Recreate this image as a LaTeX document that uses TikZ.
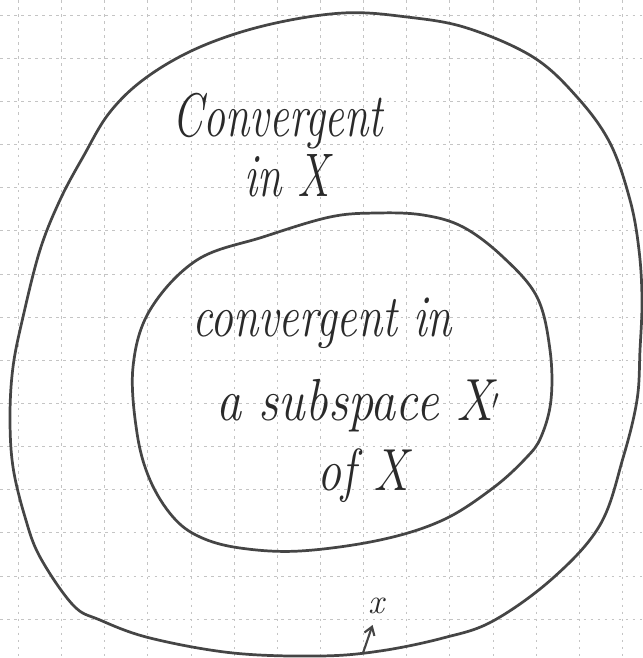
\documentclass[tikz,border=0pt]{standalone}
\usepackage{fontspec}
\usepackage{graphicx}
\usetikzlibrary{arrows.meta}
\definecolor{ink}{HTML}{2A2A2A}
\definecolor{pencil}{HTML}{454545}
\definecolor{gridc}{HTML}{C4C4C4}
\tikzset{
  gridline/.style={gridc, line width=0.7pt, dash pattern=on 3pt off 5pt},
  curve/.style={pencil, line width=3.1pt, line join=round},
  hand/.style={ink, font=\itshape\fontsize{50}{60}\selectfont, inner sep=0pt, anchor=base},
  handin/.style={hand, font=\itshape\fontsize{52}{62}\selectfont},
  pointer/.style={pencil, line width=2.4pt, -{Straight Barb[length=9pt,width=12pt]}},
}
\begin{document}
\begin{tikzpicture}[x=0.04cm,y=-0.04cm]
\useasboundingbox (0,0) rectangle (643,658);
\fill[white] (0,0) rectangle (643,658);
\foreach \i in {0,...,14}{
  \draw[gridline] ({18.3+43.15*\i},0) -- ({18.3+43.15*\i},658);
  \draw[gridline] (0,{15+43.15*\i}) -- (643,{15+43.15*\i});
}
% outer region
\draw[curve] plot[smooth cycle, tension=0.6] coordinates {
  (343,13) (407,17) (467,28) (533,57) (577,97) (610,143) (630,200) (639,250)
  (642,300) (640,350) (637,400) (623,458) (600,525) (553,578) (493,621) (443,638)
  (380,651) (320,656) (233,653) (150,638) (100,620) (73,605) (40,557) (25,517)
  (13,467) (10,417) (13,367) (23,317) (40,250) (60,200) (83,157) (110,112)
  (147,77) (200,47) (267,25)};
% inner region
\draw[curve] plot[smooth cycle, tension=0.6] coordinates {
  (377,213) (423,215) (463,227) (503,257) (537,297) (550,350) (551,400) (541,437)
  (526,458) (493,488) (443,520) (380,540) (300,551) (240,548) (200,537) (173,517)
  (150,480) (137,433) (133,367) (150,310) (197,260) (263,237) (330,217)};
% labels
\node[hand] (outerA) at (278,136) {\scalebox{1}[1.4]{Convergent}};
\node[hand] (outerB) at (287,196) {\scalebox{1}[1.4]{in X}};
\node[handin] (innerA) at (322,336) {\scalebox{1}[1.3]{convergent in}};
\node[handin] (innerB) at (358,420) {\scalebox{1.1}[1.3]{a subspace X$'$}};
\node[handin] (innerC) at (363,490) {\scalebox{1.05}[1.3]{of X}};
% point on the boundary
\node[ink, font=\itshape\fontsize{40}{44}\selectfont, inner sep=1pt] (pt) at (376,606) {x};
\coordinate (tail) at (363,653);
\draw[pointer, shorten >=12pt] (tail) -- (pt.south);
\end{tikzpicture}
\end{document}
